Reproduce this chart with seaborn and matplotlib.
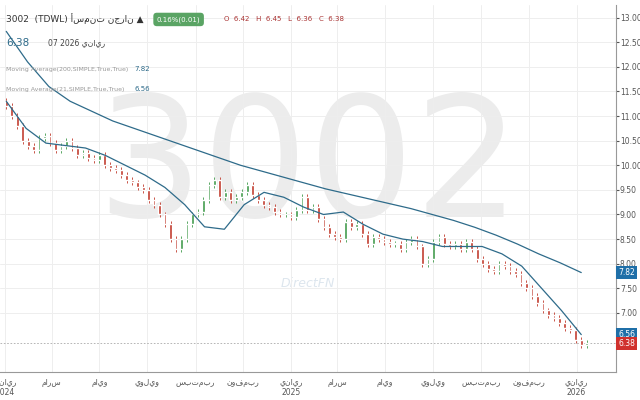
import numpy as np
import pandas as pd
import matplotlib
matplotlib.use("Agg")
import matplotlib.pyplot as plt
import matplotlib.dates as mdates
import seaborn as sns

# weekly closes (Jan 2024 -> Jan 2026)
closes = [11.2, 11.0, 10.8, 10.5, 10.4, 10.3, 10.55, 10.6, 10.45, 10.3, 10.4,
          10.5, 10.35, 10.2, 10.25, 10.15, 10.1, 10.2, 10.0, 9.95, 9.9,
          9.8, 9.7, 9.65, 9.55, 9.5, 9.3, 9.2, 9.0, 8.8, 8.5,
          8.3, 8.5, 8.8, 9.0, 9.05, 9.3, 9.6, 9.7, 9.35, 9.45,
          9.3, 9.35, 9.45, 9.6, 9.4, 9.3, 9.2, 9.15, 9.05, 9.0,
          9.0, 8.95, 9.1, 9.35, 9.1, 9.15, 8.9, 8.75, 8.6, 8.55,
          8.5, 8.85, 8.75, 8.8, 8.6, 8.4, 8.55, 8.5, 8.45, 8.4,
          8.4, 8.3, 8.45, 8.5, 8.35, 8.0, 8.1, 8.45, 8.55, 8.4,
          8.35, 8.4, 8.3, 8.45, 8.3, 8.1, 8.0, 7.9, 7.85, 8.0,
          7.95, 7.85, 7.8, 7.6, 7.5, 7.35, 7.2, 7.05, 6.95, 6.9,
          6.8, 6.7, 6.65, 6.45, 6.35, 6.38]
opens = [11.3] + closes[:-1]

# moving averages, sampled every 4 weeks
ma200 = [12.72, 12.1, 11.6, 11.3, 11.1, 10.9, 10.75, 10.6, 10.45, 10.3, 10.15,
         10.0, 9.88, 9.76, 9.64, 9.52, 9.42, 9.32, 9.22, 9.12, 9.0, 8.88,
         8.74, 8.58, 8.4, 8.2, 8.02, 7.82]
ma21 = [11.3, 10.75, 10.45, 10.4, 10.35, 10.2, 10.0, 9.8, 9.55, 9.2, 8.75,
        8.7, 9.2, 9.45, 9.35, 9.15, 9.0, 9.05, 8.8, 8.6, 8.5, 8.45, 8.35,
        8.35, 8.35, 8.2, 7.95, 7.5, 7.05, 6.56]

dates = pd.date_range("2024-01-03", periods=len(closes), freq="7D")
ma200_dates = pd.date_range("2024-01-03", "2026-01-07", periods=len(ma200))
ma21_dates = pd.date_range("2024-01-03", "2026-01-07", periods=len(ma21))

sns.set_style("white")
fig = plt.figure(figsize=(6.4, 4.0), dpi=100)
ax = fig.add_axes([0.0, 0.07, 0.962, 0.918])

# watermark
ax.text(0.5, 0.55, "3002", transform=ax.transAxes, fontsize=120, color="#ececec",
        ha="center", va="center", zorder=0)
ax.text(0.5, 0.24, "DirectFN", transform=ax.transAxes, fontsize=9, color="#dde6ee",
        ha="center", va="center", style="italic", zorder=0)

# candles
for d, o, c in zip(dates, opens, closes):
    col = "#3f9a4a" if c >= o else "#c0392b"
    x = mdates.date2num(d)
    ax.vlines(x, min(o, c) - 0.06, max(o, c) + 0.06, color=col, lw=0.6, zorder=2)
    ax.bar(x, abs(c - o) if abs(c - o) > 0.01 else 0.02, bottom=min(o, c),
           width=3.5, color=col, zorder=3)

sns.lineplot(x=ma200_dates, y=ma200, ax=ax, color="#2e6b8a", lw=0.9, zorder=4)
sns.lineplot(x=ma21_dates, y=ma21, ax=ax, color="#2e6b8a", lw=0.9, zorder=4)
ax.axhline(6.38, color="#aaaaaa", lw=0.6, ls=(0, (2, 2)))

ax.set_ylim(5.8, 13.26)
ax.set_xlim(pd.Timestamp("2023-12-26"), pd.Timestamp("2026-02-20"))
ax.yaxis.tick_right()
ax.set_yticks(np.arange(7.0, 13.01, 0.5))
ax.set_yticklabels([f"{v:.2f}" for v in np.arange(7.0, 13.01, 0.5)])
ticks = pd.to_datetime(["2024-01-01", "2024-03-01", "2024-05-01", "2024-07-01",
                        "2024-09-01", "2024-11-01", "2025-01-01", "2025-03-01",
                        "2025-05-01", "2025-07-01", "2025-09-01", "2025-11-01",
                        "2026-01-01"])
months = ["يناير", "مارس", "مايو", "يوليو", "سبتمبر", "نوفمبر"]
labels = []
for t in ticks:
    m = months[(t.month - 1) // 2]
    labels.append(f"{m}\n{t.year}" if t.month == 1 else m)
ax.set_xticks(ticks)
ax.set_xticklabels(labels)
ax.tick_params(axis="x", labelsize=5.5, colors="#555555", length=3, pad=1)
ax.tick_params(axis="y", labelsize=5.5, colors="#555555", length=2, pad=1)
ax.grid(True, color="#eeeeee", lw=0.7)
for s in ["top", "left"]:
    ax.spines[s].set_visible(False)
for s in ["right", "bottom"]:
    ax.spines[s].set_color("#999999")

# price tags
for v, col in [(7.82, "#1f6fa8"), (6.56, "#1f6fa8"), (6.38, "#d0312d")]:
    ax.text(1.004, v, f"{v:.2f}", transform=ax.get_yaxis_transform(), fontsize=5.5,
            color="white", va="center", ha="left",
            bbox=dict(boxstyle="square,pad=0.25", fc=col, ec="none"))

# header
fig.text(0.01, 0.945, "3002  (TDWL) أسمنت نجران ▲", fontsize=6.5, color="#333333")
fig.text(0.245, 0.947, "0.16%(0.01)", fontsize=5, color="white",
         bbox=dict(boxstyle="round,pad=0.5", fc="#5aa464", ec="none"))
fig.text(0.35, 0.947, "O  6.42   H  6.45   L  6.36   C  6.38", fontsize=5, color="#a33")
fig.text(0.01, 0.885, "6.38", fontsize=7.5, color="#2e6b8a")
fig.text(0.075, 0.888, "07 2026 يناير", fontsize=5.5, color="#444444")
fig.text(0.01, 0.822, "Moving Average(200,SIMPLE,True,True)", fontsize=4.5, color="#999999")
fig.text(0.21, 0.822, "7.82", fontsize=5, color="#2e6b8a")
fig.text(0.01, 0.772, "Moving Average(21,SIMPLE,True,True)", fontsize=4.5, color="#999999")
fig.text(0.21, 0.772, "6.56", fontsize=5, color="#2e6b8a")

fig.savefig("out.png", dpi=100)
